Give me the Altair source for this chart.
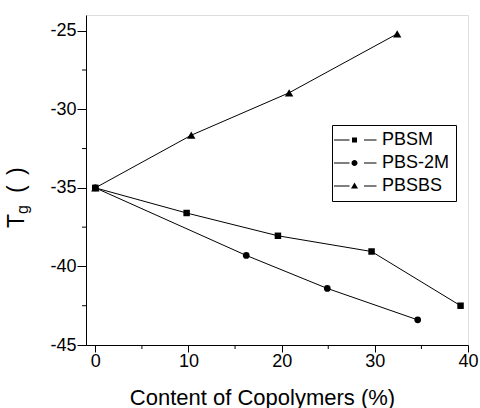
import altair as alt
import pandas as pd

# ---- data ----
series_names = ["PBSM", "PBS-2M", "PBSBS"]
pbsm_x = [0, 9.8, 19.6, 29.65, 39.2]
pbsm_y = [-35, -36.6, -38.05, -39.05, -42.5]
pbs2m_x = [0, 16.2, 24.9, 34.6]
pbs2m_y = [-35, -39.3, -41.4, -43.4]
pbsbs_x = [0, 10.3, 20.8, 32.4]
pbsbs_y = [-35, -31.65, -28.95, -25.2]

x_ticks = [0, 10, 20, 30, 40]
x_minor = [5, 15, 25, 35]
y_ticks = [-45, -40, -35, -30, -25]
y_minor = [-42.5, -37.5, -32.5, -27.5]

rows = []
for name, xs, ys in [("PBSM", pbsm_x, pbsm_y), ("PBS-2M", pbs2m_x, pbs2m_y), ("PBSBS", pbsbs_x, pbsbs_y)]:
    for i, (xv, yv) in enumerate(zip(xs, ys)):
        rows.append({"series": name, "x": xv, "y": yv, "order": i})
df = pd.DataFrame(rows)

FONT = "Liberation Sans"
W, H = 382, 330

xscale = alt.Scale(domain=[-1, 40], nice=False, zero=False)
yscale = alt.Scale(domain=[-45, -24], nice=False, zero=False)

fix_minus = "replace(datum.label, '\u2212', '-')"

xaxis = alt.Axis(values=x_ticks, tickSize=7, labelPadding=0, labelFontSize=18, labelFont=FONT,
                 labelColor="black", domainColor="black", tickColor="black", grid=False,
                 labelFlush=False, title="Content of Copolymers (%)", titleFont=FONT,
                 titleFontSize=22, titleFontWeight="normal", titleColor="black",
                 titleX=176, titleY=59, titleBaseline="alphabetic", titleAnchor="middle")
yaxis = alt.Axis(values=y_ticks, tickSize=9, labelPadding=1, labelFontSize=18, labelFont=FONT,
                 labelColor="black", domainColor="black", tickColor="black", grid=False,
                 title=None, labelExpr=fix_minus)

base = alt.Chart(df)

lines = base.mark_line(color="black", strokeWidth=1).encode(
    x=alt.X("x:Q", scale=xscale, axis=xaxis),
    y=alt.Y("y:Q", scale=yscale, axis=yaxis),
    detail="series:N",
    order="order:Q",
)

marker_shapes = {"PBSM": ("square", 42), "PBS-2M": ("circle", 45), "PBSBS": ("triangle-up", 70)}
point_layers = []
for name in series_names:
    shp, sz = marker_shapes[name]
    point_layers.append(
        base.transform_filter(alt.datum.series == name)
        .mark_point(filled=True, color="black", opacity=1, shape=shp, size=sz)
        .encode(x="x:Q", y="y:Q")
    )

# legend symbols: dash - marker - dash, all drawn as filled shapes
dashes = "M-8.2,-0.2H-2V0.2H-8.2Z M3.8,-0.2H8.8V0.2H3.8Z"
legend_paths = [
    dashes + " M-1,-1H1V1H-1Z",
    dashes + " M-1.2,0A1.2,1.2 0 1,0 1.2,0A1.2,1.2 0 1,0 -1.2,0Z",
    dashes + " M0,-1.4L1.4,1L-1.4,1Z",
]

legend_layer = base.mark_point(filled=True, color="black", opacity=0).encode(
    x="x:Q",
    y="y:Q",
    shape=alt.Shape("series:N", scale=alt.Scale(domain=series_names, range=legend_paths),
                    legend=alt.Legend(title=None, orient="none", legendX=246, legendY=110,
                                      padding=6, strokeColor="black", fillColor="white",
                                      symbolSize=25, symbolOffset=7.5, symbolOpacity=1,
                                      symbolFillColor="black", symbolStrokeColor="black",
                                      symbolStrokeWidth=0, labelFontSize=18, labelFont=FONT,
                                      labelColor="black", labelOffset=18.5, rowPadding=5,
                                      cornerRadius=0)),
)

xminor_df = pd.DataFrame({"v": x_minor})
yminor_df = pd.DataFrame({"v": y_minor})
xminor = alt.Chart(xminor_df).mark_rule(color="black", strokeWidth=1).encode(
    x=alt.X("v:Q", scale=xscale), y=alt.value(H), y2=alt.value(H + 4))
yminor = alt.Chart(yminor_df).mark_rule(color="black", strokeWidth=1).encode(
    y=alt.Y("v:Q", scale=yscale), x=alt.value(0), x2=alt.value(-4))

# y-axis title with subscript g, "Tg(  )"
title_df = pd.DataFrame({"t": ["T", "g", "(", ")"],
                         "px": [-62, -58, -62, -62],
                         "py": [213, 199, 178, 160],
                         "fs": [23, 16, 23, 23]})
ytitle = alt.Chart(title_df).mark_text(angle=270, align="left", baseline="alphabetic",
                                        font=FONT, color="black").encode(
    text="t:N",
    x=alt.X("px:Q", scale=None),
    y=alt.Y("py:Q", scale=None),
    size=alt.Size("fs:Q", scale=None, legend=None),
)

chart = alt.layer(lines, *point_layers, legend_layer, xminor, yminor, ytitle).properties(
    width=W, height=H,
    autosize=alt.AutoSizeParams(type="none"),
    padding={"left": 86, "top": 15, "right": 12, "bottom": 63},
).configure_view(stroke=None).configure(background="white")

chart.save("out.html", embed_options={"renderer": "svg", "actions": False})
